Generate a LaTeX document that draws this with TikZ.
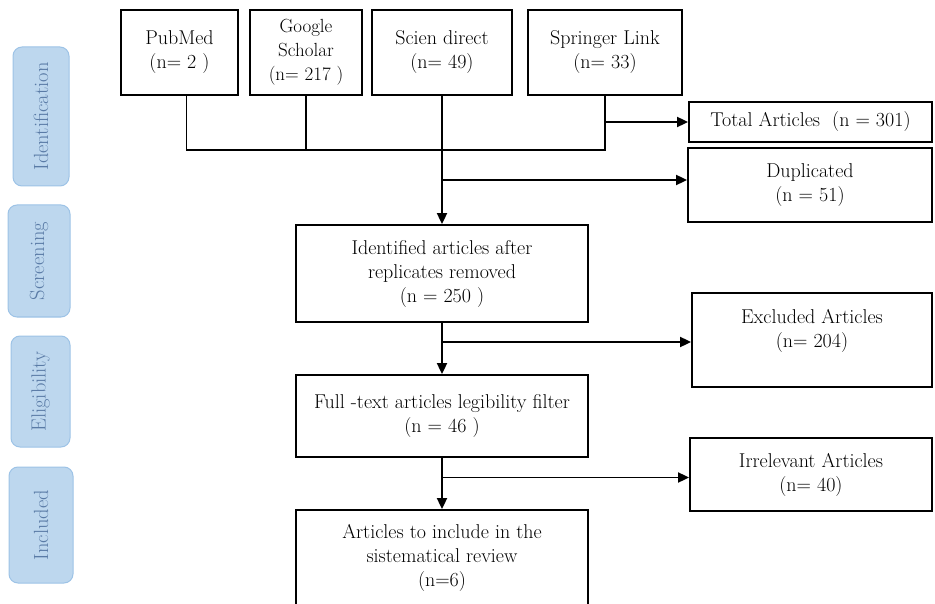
\documentclass[tikz,border=0pt]{standalone}
\usepackage{fontspec}
\usepackage{xcolor}
\usetikzlibrary{arrows.meta,positioning}
\definecolor{tabfill}{HTML}{BDD7EE}
\definecolor{tabline}{HTML}{9DC3E6}
\definecolor{tabtext}{HTML}{5A7BA6}
\begin{document}
\begin{tikzpicture}[x=1pt, y=-1pt,
    every node/.style={font=\fontsize{20}{24}\selectfont},
    box/.style={draw, line width=1.8pt, align=center, inner sep=2pt},
    tab/.style={draw=tabline, fill=tabfill, line width=1pt, rounded corners=9pt, rotate=90, text=tabtext, font=\fontsize{20.5}{24}\selectfont},
    conn/.style={line width=1.8pt},
    arr/.style={line width=1.8pt, -{Triangle[length=11pt, width=10pt]}}]

\useasboundingbox (0,0) rectangle (935,604);
\clip (0,0) rectangle (935,604);

% Phase tabs
\node[tab, minimum width=139pt, minimum height=56pt] (idtab) at (41,116.5) {Identification};
\node[tab, minimum width=112pt, minimum height=62pt] (scrtab) at (39,261) {Screening};
\node[tab, minimum width=111pt, minimum height=59pt] (eligtab) at (40.5,391.5) {Eligibility};
\node[tab, minimum width=116pt, minimum height=64pt] (incltab) at (41,525) {Included};

% Sources
\node[box, minimum width=117pt, minimum height=85pt] (pubmed) at (179.5,52.5) {PubMed\\(n= 2 )};
\node[box, minimum width=112pt, minimum height=85pt, font=\fontsize{19}{24}\selectfont] (scholar) at (306,52.5) {Google\\Scholar\\(n= 217 )};
\node[box, minimum width=140pt, minimum height=85pt] (scien) at (442,52.5) {Scien direct\\(n= 49)};
\node[box, minimum width=154pt, minimum height=85pt] (springer) at (605,52.5) {Springer Link\\(n= 33)};

% Right column
\node[box, minimum width=243pt, minimum height=40pt] (total) at (810.5,122) {Total Articles\ \ (n = 301)};
\node[box, minimum width=244pt, minimum height=74pt] (dup) at (810,185) {Duplicated\\(n = 51)};
\node[box, minimum width=240pt, minimum height=94pt] (excl) at (812,340) {Excluded Articles\\(n= 204)\\ \mbox{}};
\node[box, minimum width=242pt, minimum height=73pt] (irr) at (811,474.5) {Irrelevant Articles\\(n= 40)};

% Main column
\node[box, minimum width=292pt, minimum height=97pt] (ident) at (442,273.5) {Identified articles after\\replicates removed\\(n = 250 )};
\node[box, minimum width=292pt, minimum height=82pt] (full) at (442,416) {Full -text articles legibility filter\\(n = 46 )};
\node[box, minimum width=292pt, minimum height=96pt] (incl) at (442,558) {Articles to include in the\\sistematical review\\(n=6)};

% Connectors
\coordinate (bar) at (0,150);
\draw[conn] ([xshift=7pt]pubmed.south) |- (springer.south |- bar) -- (springer.south);
\draw[conn] (scholar.south) -- (scholar.south |- bar);
\draw[arr] (scien.south) -- (ident.north);
\draw[arr] (springer.south |- total.west) -- (total.west);
\draw[arr] ([yshift=5pt]dup.west -| scien.south) -- ([yshift=5pt]dup.west);
\draw[arr] (ident.south) -- (full.north);
\draw[arr] ([yshift=-2pt]excl.west -| ident.south) -- ([yshift=-2pt]excl.west);
\draw[arr] (full.south) -- (incl.north);
\draw[arr] ([yshift=-3pt]irr.west -| full.south) -- ([yshift=-3pt]irr.west);

\end{tikzpicture}
\end{document}
